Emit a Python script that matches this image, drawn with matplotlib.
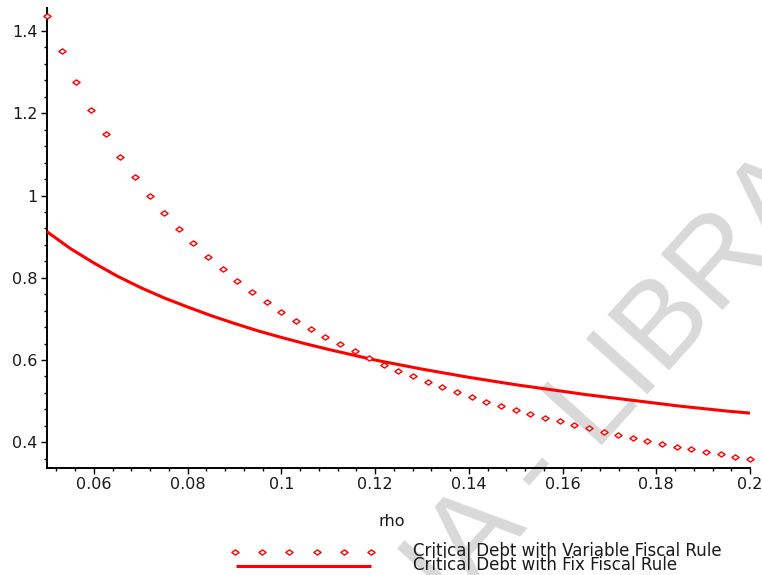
import matplotlib
matplotlib.use("Agg")
import matplotlib.pyplot as plt
from matplotlib.lines import Line2D
from matplotlib.path import Path

# Critical debt with a variable fiscal rule (sampled points)
rho_variable = [0.05, 0.053125, 0.05625, 0.059375, 0.0625, 0.065625, 0.06875,
                0.071875, 0.075, 0.078125, 0.08125, 0.084375, 0.0875, 0.090625,
                0.09375, 0.096875, 0.1, 0.103125, 0.10625, 0.109375, 0.1125,
                0.115625, 0.11875, 0.121875, 0.125, 0.128125, 0.13125, 0.134375,
                0.1375, 0.140625, 0.14375, 0.146875, 0.15, 0.153125, 0.15625,
                0.159375, 0.1625, 0.165625, 0.16875, 0.171875, 0.175, 0.178125,
                0.18125, 0.184375, 0.1875, 0.190625, 0.19375, 0.196875, 0.2]
debt_variable = [1.436, 1.352, 1.276, 1.209, 1.149, 1.094, 1.044, 0.999, 0.957,
                 0.919, 0.884, 0.851, 0.821, 0.792, 0.766, 0.741, 0.718, 0.696,
                 0.676, 0.656, 0.638, 0.621, 0.605, 0.589, 0.574, 0.560, 0.547,
                 0.534, 0.522, 0.511, 0.499, 0.489, 0.479, 0.469, 0.460, 0.451,
                 0.442, 0.434, 0.425, 0.418, 0.410, 0.403, 0.396, 0.389, 0.383,
                 0.377, 0.371, 0.365, 0.359]

# Critical debt with a fixed fiscal rule (continuous curve)
rho_fixed = [0.05, 0.055, 0.06, 0.065, 0.07, 0.075, 0.08, 0.085, 0.09, 0.095,
             0.1, 0.105, 0.11, 0.115, 0.12, 0.125, 0.13, 0.135, 0.14, 0.145,
             0.15, 0.155, 0.16, 0.165, 0.17, 0.175, 0.18, 0.185, 0.19, 0.195, 0.2]
debt_fixed = [0.912, 0.871, 0.836, 0.804, 0.776, 0.751, 0.729, 0.708, 0.689,
              0.671, 0.655, 0.640, 0.626, 0.613, 0.600, 0.589, 0.578, 0.568,
              0.558, 0.549, 0.540, 0.532, 0.524, 0.516, 0.509, 0.502, 0.495,
              0.488, 0.482, 0.476, 0.471]

x_ticks = [0.06, 0.08, 0.1, 0.12, 0.14, 0.16, 0.18, 0.2]
x_tick_labels = ["0.06", "0.08", "0.1", "0.12", "0.14", "0.16", "0.18", "0.2"]
y_ticks = [0.4, 0.6, 0.8, 1.0, 1.2, 1.4]
y_tick_labels = ["0.4", "0.6", "0.8", "1", "1.2", "1.4"]

label_variable = "Critical Debt with Variable Fiscal Rule"
label_fixed = "Critical Debt with Fix Fiscal Rule"

W, H = 762, 575
RED = "#ff0000"
TXT = "#1a1a1a"
FONT = "DejaVu Sans"

plt.rcParams["font.family"] = [FONT]

fig = plt.figure(figsize=(W / 100, H / 100), dpi=100)
fig.patch.set_facecolor("white")


def fx(px):
    return px / W


def fy(py):
    return 1 - py / H


# flattened diamond marker
diamond = Path([(-1.0, 0.0), (0.0, 0.72), (1.0, 0.0), (0.0, -0.72), (-1.0, 0.0)],
               [Path.MOVETO, Path.LINETO, Path.LINETO, Path.LINETO, Path.CLOSEPOLY])

ax = fig.add_axes([fx(47), fy(468.3), fx(750) - fx(47), fy(8) - fy(468.3)])
ax.set_facecolor("none")

ax.plot(rho_fixed, debt_fixed, color=RED, lw=2.2, solid_capstyle="butt", zorder=3)
ax.plot(rho_variable, debt_variable, linestyle="none", marker=diamond,
        markersize=5.2, markerfacecolor="white", markeredgecolor=RED,
        markeredgewidth=1.0, clip_on=False, zorder=4)

ax.set_xlim(0.05, 0.2)
ax.set_ylim(0.3368, 1.4559)

for s in ("top", "right"):
    ax.spines[s].set_visible(False)
for s in ("left", "bottom"):
    ax.spines[s].set_linewidth(1.4)
    ax.spines[s].set_color("black")

ax.set_xticks(x_ticks)
ax.set_xticklabels(x_tick_labels)
ax.set_yticks(y_ticks)
ax.set_yticklabels(y_tick_labels)
ax.set_xticks([0.052 + 0.004 * i for i in range(38) if i % 5 != 2], minor=True)
ax.set_yticks([0.36 + 0.04 * i for i in range(28) if i % 5 != 1], minor=True)

ax.tick_params(which="major", direction="out", length=4.6, width=1.0,
               color="black", labelsize=11.5, labelcolor=TXT)
ax.tick_params(which="minor", direction="out", length=2.4, width=1.0,
               color="black")
ax.tick_params(axis="x", which="major", pad=1.5)
ax.tick_params(axis="y", which="major", pad=2.0)

# axis title
fig.text(fx(392), fy(521), "rho", ha="center", va="center",
         fontsize=11.5, color=TXT)

# legend drawn below the plot
legend_x = [235, 262.2, 289.4, 316.6, 343.8, 371]
fig.add_artist(Line2D([fx(v) for v in legend_x], [fy(552)] * len(legend_x),
                      transform=fig.transFigure, linestyle="none",
                      marker=diamond, markersize=5.2, markerfacecolor="white",
                      markeredgecolor=RED, markeredgewidth=1.0))
fig.add_artist(Line2D([fx(236), fx(371)], [fy(566), fy(566)],
                      transform=fig.transFigure, color=RED, lw=2.2,
                      solid_capstyle="butt"))
fig.text(fx(413), fy(551.5), label_variable, ha="left", va="center",
         fontsize=12, color=TXT)
fig.text(fx(413), fy(565), label_fixed, ha="left", va="center",
         fontsize=12, color=TXT)

# repository stamp running diagonally behind the plot
WM = "#d9d9d9"
fig.text(fx(452), fy(612), "IA - LIBRARY", ha="left", va="baseline",
         rotation=48, rotation_mode="anchor", fontsize=87, color=WM,
         family="Liberation Sans", zorder=-5)

fig.savefig("out.png", dpi=100, facecolor="white")
